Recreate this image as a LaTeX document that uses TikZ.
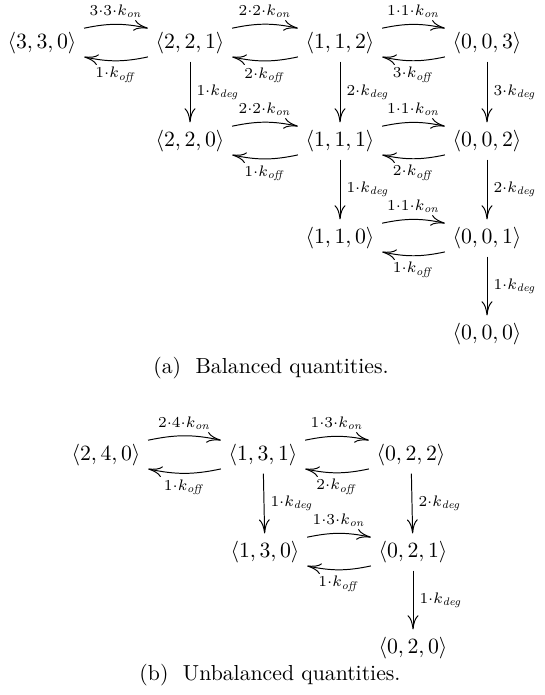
\documentclass[tikz,border=0pt]{standalone}
\usetikzlibrary{arrows.meta}
\begin{document}
\begin{tikzpicture}[x=0.46pt,y=-0.46pt,
  st/.style={inner sep=3.33pt},
  lab/.style={inner sep=2.8pt},
  tr/.style={-{To[length=6.5pt,width=5pt]}, line width=0.45pt},
  captext/.style={inner sep=0pt}]
\useasboundingbox (0,0) rectangle (544,695);
% ---------- (a) balanced ----------
\node[st] (n330) at (42,43)  {$\langle 3,3,0\rangle$};
\node[st] (n221) at (190,43) {$\langle 2,2,1\rangle$};
\node[st] (n112) at (340,43) {$\langle 1,1,2\rangle$};
\node[st] (n003) at (487,43) {$\langle 0,0,3\rangle$};
\node[st] (n220) at (190,141) {$\langle 2,2,0\rangle$};
\node[st] (n111) at (340,141) {$\langle 1,1,1\rangle$};
\node[st] (n002) at (487,141) {$\langle 0,0,2\rangle$};
\node[st] (n110) at (340,238) {$\langle 1,1,0\rangle$};
\node[st] (n001) at (487,238) {$\langle 0,0,1\rangle$};
\node[st] (n000) at (487,334) {$\langle 0,0,0\rangle$};
% horizontal pairs
\draw[tr] ([yshift=6.8pt]n330.east) to[bend left=12] node[above,lab] {$\scriptstyle 3\cdot 3\cdot k_{\mathit{on}}$} ([yshift=6.8pt]n221.west);
\draw[tr] ([yshift=-6.4pt]n221.west) to[bend left=12] node[below,lab] {$\scriptstyle 1\cdot k_{\mathit{off}}$} ([yshift=-6.4pt]n330.east);
\draw[tr] ([yshift=6.8pt]n221.east) to[bend left=12] node[above,lab] {$\scriptstyle 2\cdot 2\cdot k_{\mathit{on}}$} ([yshift=6.8pt]n112.west);
\draw[tr] ([yshift=-6.4pt]n112.west) to[bend left=12] node[below,lab] {$\scriptstyle 2\cdot k_{\mathit{off}}$} ([yshift=-6.4pt]n221.east);
\draw[tr] ([yshift=6.8pt]n112.east) to[bend left=12] node[above,lab] {$\scriptstyle 1\cdot 1\cdot k_{\mathit{on}}$} ([yshift=6.8pt]n003.west);
\draw[tr] ([yshift=-6.4pt]n003.west) to[bend left=12] node[below,lab] {$\scriptstyle 3\cdot k_{\mathit{off}}$} ([yshift=-6.4pt]n112.east);
\draw[tr] ([yshift=6.8pt]n220.east) to[bend left=12] node[above,lab] {$\scriptstyle 2\cdot 2\cdot k_{\mathit{on}}$} ([yshift=6.8pt]n111.west);
\draw[tr] ([yshift=-6.4pt]n111.west) to[bend left=12] node[below,lab] {$\scriptstyle 1\cdot k_{\mathit{off}}$} ([yshift=-6.4pt]n220.east);
\draw[tr] ([yshift=6.8pt]n111.east) to[bend left=12] node[above,lab] {$\scriptstyle 1\cdot 1\cdot k_{\mathit{on}}$} ([yshift=6.8pt]n002.west);
\draw[tr] ([yshift=-6.4pt]n002.west) to[bend left=12] node[below,lab] {$\scriptstyle 2\cdot k_{\mathit{off}}$} ([yshift=-6.4pt]n111.east);
\draw[tr] ([yshift=6.8pt]n110.east) to[bend left=12] node[above,lab] {$\scriptstyle 1\cdot 1\cdot k_{\mathit{on}}$} ([yshift=6.8pt]n001.west);
\draw[tr] ([yshift=-6.4pt]n001.west) to[bend left=12] node[below,lab] {$\scriptstyle 1\cdot k_{\mathit{off}}$} ([yshift=-6.4pt]n110.east);
% vertical
\draw[tr] (n221) -- node[right,lab] {$\scriptstyle 1\cdot k_{\mathit{deg}}$} (n220);
\draw[tr] (n112) -- node[right,lab] {$\scriptstyle 2\cdot k_{\mathit{deg}}$} (n111);
\draw[tr] (n003) -- node[right,lab] {$\scriptstyle 3\cdot k_{\mathit{deg}}$} (n002);
\draw[tr] (n111) -- node[right,lab] {$\scriptstyle 1\cdot k_{\mathit{deg}}$} (n110);
\draw[tr] (n002) -- node[right,lab] {$\scriptstyle 2\cdot k_{\mathit{deg}}$} (n001);
\draw[tr] (n001) -- node[right,lab] {$\scriptstyle 1\cdot k_{\mathit{deg}}$} (n000);
\node[captext] (capa) at (271,368) {(a)\ \ Balanced quantities.};
% ---------- (b) unbalanced ----------
\node[st] (m240) at (106,455) {$\langle 2,4,0\rangle$};
\node[st] (m131) at (263,455) {$\langle 1,3,1\rangle$};
\node[st] (m022) at (411,455) {$\langle 0,2,2\rangle$};
\node[st] (m130) at (265,552) {$\langle 1,3,0\rangle$};
\node[st] (m021) at (413,552) {$\langle 0,2,1\rangle$};
\node[st] (m020) at (413,648) {$\langle 0,2,0\rangle$};
\draw[tr] ([yshift=6.8pt]m240.east) to[bend left=12] node[above,lab] {$\scriptstyle 2\cdot 4\cdot k_{\mathit{on}}$} ([yshift=6.8pt]m131.west);
\draw[tr] ([yshift=-6.4pt]m131.west) to[bend left=12] node[below,lab] {$\scriptstyle 1\cdot k_{\mathit{off}}$} ([yshift=-6.4pt]m240.east);
\draw[tr] ([yshift=6.8pt]m131.east) to[bend left=12] node[above,lab] {$\scriptstyle 1\cdot 3\cdot k_{\mathit{on}}$} ([yshift=6.8pt]m022.west);
\draw[tr] ([yshift=-6.4pt]m022.west) to[bend left=12] node[below,lab] {$\scriptstyle 2\cdot k_{\mathit{off}}$} ([yshift=-6.4pt]m131.east);
\draw[tr] ([yshift=6.8pt]m130.east) to[bend left=12] node[above,lab] {$\scriptstyle 1\cdot 3\cdot k_{\mathit{on}}$} ([yshift=6.8pt]m021.west);
\draw[tr] ([yshift=-6.4pt]m021.west) to[bend left=12] node[below,lab] {$\scriptstyle 1\cdot k_{\mathit{off}}$} ([yshift=-6.4pt]m130.east);
\draw[tr] (m131) -- node[right,lab] {$\scriptstyle 1\cdot k_{\mathit{deg}}$} (m130);
\draw[tr] (m022) -- node[right,lab] {$\scriptstyle 2\cdot k_{\mathit{deg}}$} (m021);
\draw[tr] (m021) -- node[right,lab] {$\scriptstyle 1\cdot k_{\mathit{deg}}$} (m020);
\node[captext] (capb) at (270,675) {(b)\ \ Unbalanced quantities.};
\end{tikzpicture}
\end{document}
